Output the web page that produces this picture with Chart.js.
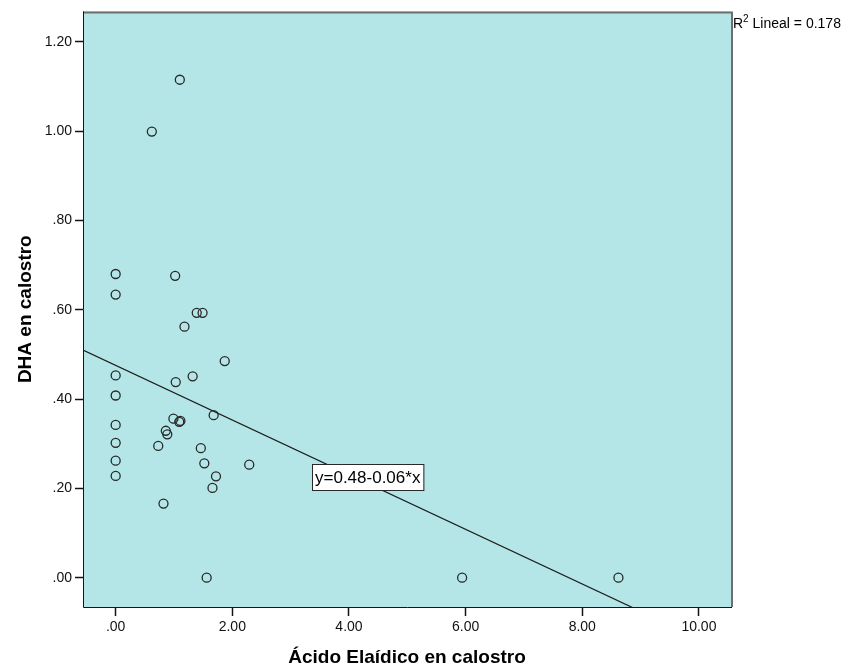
<!DOCTYPE html>
<html>
<head>
<meta charset="utf-8">
<script src="https://cdn.jsdelivr.net/npm/chart.js@4.4.1/dist/chart.umd.min.js"></script>
<style>
html,body{margin:0;padding:0;background:#ffffff;}
#wrap{width:849px;height:668px;position:relative;}
</style>
</head>
<body>
<div id="wrap"><canvas id="c" width="849" height="668"></canvas></div>
<script>
// ---- data ----
const elaidicX = [1.10, 0.62, 0.00, 1.02, 0.00, 1.39, 1.49, 1.18, 1.87, 0.00, 1.32, 1.03, 0.00, 1.68, 0.00, 0.99, 1.09, 1.11, 0.86, 0.885, 0.00, 0.73, 1.46, 0.00, 1.52, 2.29, 0.00, 1.72, 1.66, 0.82, 1.56, 5.94, 8.62];
const dhaY     = [1.115, 0.999, 0.680, 0.676, 0.634, 0.593, 0.593, 0.562, 0.485, 0.453, 0.451, 0.438, 0.408, 0.364, 0.342, 0.356, 0.349, 0.351, 0.329, 0.321, 0.302, 0.295, 0.290, 0.262, 0.256, 0.253, 0.228, 0.227, 0.201, 0.166, 0.000, 0.000, 0.000];
const xTicks = [0, 2, 4, 6, 8, 10];
const yTicks = [0, 0.2, 0.4, 0.6, 0.8, 1.0, 1.2];
const xRange = [-0.56, 10.55];
const yRange = [-0.0656, 1.268];
const fitIntercept = 0.4755;
const fitSlope = -0.0612;
const equationText = 'y=0.48-0.06*x';
const equationAnchor = {x: 4.32, y: 0.226};
const r2Value = '0.178';
const xTitle = 'Ácido Elaídico en calostro';
const yTitle = 'DHA en calostro';

const FONT = "'Liberation Sans', Arial, sans-serif";
const points = elaidicX.map((x, i) => ({x: x, y: dhaY[i]}));
const fitLine = [xRange[0], xRange[1]].map(x => ({x: x, y: fitIntercept + fitSlope * x}));

function fmt(v) {
  let s = Number(v).toFixed(2);
  if (s.startsWith('0.')) s = s.slice(1);
  return s;
}

const bgPlugin = {
  id: 'bg',
  beforeDraw(chart) {
    const {ctx, chartArea: a} = chart;
    ctx.save();
    ctx.fillStyle = 'rgb(180,229,231)';
    ctx.fillRect(a.left, a.top, a.right - a.left, a.bottom - a.top);
    ctx.restore();
  }
};

const framePlugin = {
  id: 'frame',
  afterDatasetsDraw(chart) {
    const {ctx, chartArea: a} = chart;
    ctx.save();
    ctx.strokeStyle = 'rgb(110,110,110)';
    ctx.lineWidth = 2;
    ctx.beginPath();
    ctx.moveTo(a.left, a.top + 1);
    ctx.lineTo(a.right + 1, a.top + 1);
    ctx.lineTo(a.right + 1, a.bottom);
    ctx.stroke();
    ctx.strokeStyle = 'rgb(20,20,20)';
    ctx.lineWidth = 1;
    ctx.beginPath();
    ctx.moveTo(a.left + 0.5, a.top);
    ctx.lineTo(a.left + 0.5, a.bottom + 0.5);
    ctx.lineTo(a.right + 1, a.bottom + 0.5);
    ctx.stroke();
    ctx.restore();
  }
};

const textPlugin = {
  id: 'texts',
  afterDraw(chart) {
    const {ctx, chartArea: a, scales} = chart;
    ctx.save();
    // equation box
    ctx.font = '17px ' + FONT;
    const tw = ctx.measureText(equationText).width;
    const bw = tw + 6, bh = 26;
    const cx = scales.x.getPixelForValue(equationAnchor.x);
    const cy = scales.y.getPixelForValue(equationAnchor.y);
    const bx = Math.round(cx - bw / 2), by = Math.round(cy - bh / 2);
    ctx.fillStyle = '#ffffff';
    ctx.fillRect(bx, by, bw, bh);
    ctx.strokeStyle = 'rgb(40,40,40)';
    ctx.lineWidth = 1;
    ctx.strokeRect(bx + 0.5, by + 0.5, bw, bh);
    ctx.fillStyle = '#000';
    ctx.textBaseline = 'middle';
    ctx.textAlign = 'left';
    ctx.fillText(equationText, bx + 3, by + bh / 2 + 1);
    // R^2 label
    let x = a.right + 2;
    const base = a.top + 17;
    ctx.textBaseline = 'alphabetic';
    ctx.font = '14px ' + FONT;
    ctx.fillText('R', x, base);
    x += ctx.measureText('R').width;
    ctx.font = '10px ' + FONT;
    ctx.fillText('2', x, base - 6);
    x += ctx.measureText('2').width;
    ctx.font = '14px ' + FONT;
    ctx.fillText(' Lineal = ' + r2Value, x, base);
    ctx.restore();
  }
};

new Chart(document.getElementById('c'), {
  type: 'scatter',
  data: {
    datasets: [
      {
        label: 'DHA',
        data: points,
        pointStyle: 'circle',
        pointRadius: 4.5,
        pointBorderWidth: 1.3,
        pointBorderColor: 'rgb(40,40,40)',
        pointBackgroundColor: 'rgba(0,0,0,0)',
        showLine: false
      },
      {
        label: 'Fit',
        data: fitLine,
        showLine: true,
        pointRadius: 0,
        borderColor: 'rgb(30,30,30)',
        borderWidth: 1.2,
        fill: false
      }
    ]
  },
  options: {
    responsive: false,
    animation: false,
    events: [],
    layout: {padding: {top: 10, right: 118, left: 0, bottom: 0}},
    plugins: {legend: {display: false}, tooltip: {enabled: false}},
    scales: {
      x: {
        type: 'linear',
        min: xRange[0],
        max: xRange[1],
        afterBuildTicks(scale) { scale.ticks = xTicks.map(v => ({value: v})); },
        afterFit(scale) { scale.height = 61; },
        grid: {drawOnChartArea: false, drawTicks: true, tickLength: 9, tickColor: 'rgb(20,20,20)', tickWidth: 1.5},
        border: {display: false},
        ticks: {callback: v => fmt(v), color: '#111', font: {family: FONT, size: 14}, padding: 3, maxRotation: 0, autoSkip: false},
        title: {display: true, text: xTitle, color: '#000', font: {family: FONT, size: 19, weight: 'bold', lineHeight: 1}, padding: {top: 0, bottom: 1}}
      },
      y: {
        type: 'linear',
        min: yRange[0],
        max: yRange[1],
        afterBuildTicks(scale) { scale.ticks = yTicks.map(v => ({value: v})); },
        afterFit(scale) { scale.width = 83; },
        grid: {drawOnChartArea: false, drawTicks: true, tickLength: 8, tickColor: 'rgb(20,20,20)', tickWidth: 1.5},
        border: {display: false},
        ticks: {callback: v => fmt(v), color: '#111', font: {family: FONT, size: 14}, padding: 3, autoSkip: false},
        title: {display: true, text: yTitle, color: '#000', font: {family: FONT, size: 19, weight: 'bold', lineHeight: 1}, padding: {top: 16, bottom: 0}}
      }
    }
  },
  plugins: [bgPlugin, framePlugin, textPlugin]
});
</script>
</body>
</html>
